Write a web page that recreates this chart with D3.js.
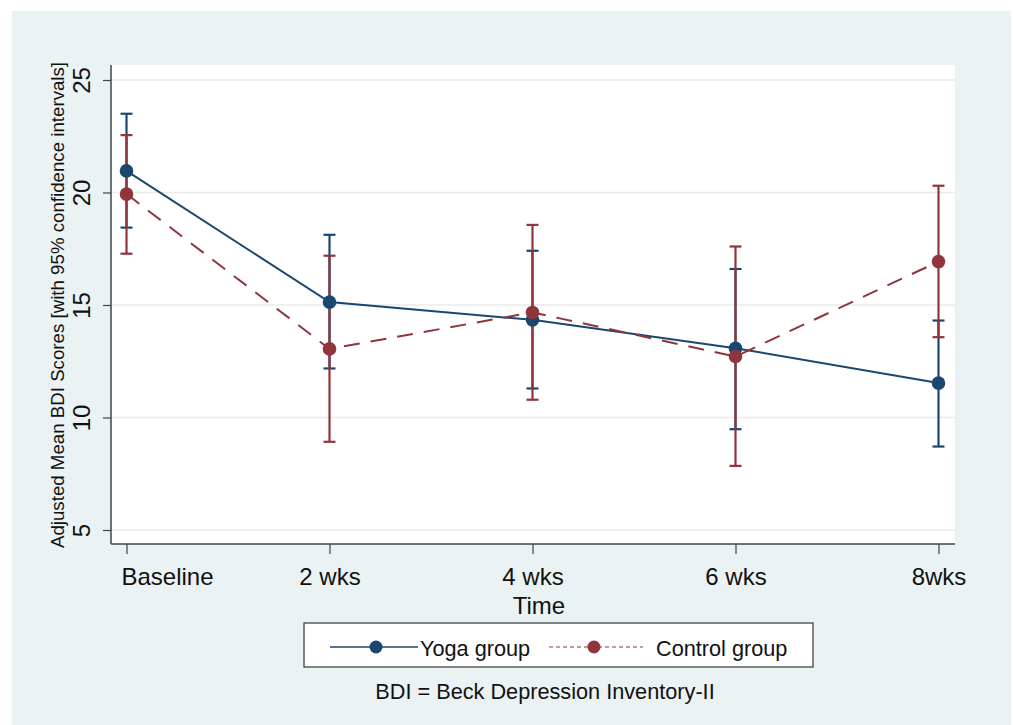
<!DOCTYPE html>
<head>
    <script src="https://d3js.org/d3.v7.min.js"></script>
    <title>Adjusted Mean BDI Scores</title>
    <style>
        body { margin: 0; background: white; }
        text { font-family: "Liberation Sans", Arial, sans-serif; fill: #111; }
    </style>
</head>
<body>
<svg width="1013" height="725" class="chart"></svg>
<script>
    // values
    const times = ["Baseline", "2 wks", "4 wks", "6 wks", "8wks"];
    const yogaMean = [20.96, 15.13, 14.34, 13.08, 11.53];
    const yogaLow = [18.44, 12.18, 11.29, 9.48, 8.71];
    const yogaHigh = [23.5, 18.12, 17.41, 16.6, 14.31];
    const ctrlMean = [19.93, 13.05, 14.67, 12.71, 16.93];
    const ctrlLow = [17.28, 8.92, 10.79, 7.85, 13.57];
    const ctrlHigh = [22.55, 17.19, 18.56, 17.6, 20.3];
    const yTicks = [5, 10, 15, 20, 25];

    const navy = "#1a476f", maroon = "#90353b";

    const svg = d3.select(".chart");

    // stata style grey background
    svg.append("rect").attr("x", 12).attr("y", 11).attr("width", 999).attr("height", 714)
        .attr("fill", "#eaf2f3");

    const plot = {left: 111, right: 955, top: 65, bottom: 544};
    svg.append("rect").attr("x", plot.left).attr("y", plot.top)
        .attr("width", plot.right - plot.left).attr("height", plot.bottom - plot.top)
        .attr("fill", "white");

    const x = d3.scalePoint().domain(times).range([126.5, 938.5]);
    const y = d3.scaleLinear().domain([5, 25]).range([530, 80]);

    // grid
    svg.append("g").selectAll("line").data(yTicks).enter().append("line")
        .attr("x1", plot.left).attr("x2", plot.right)
        .attr("y1", d => y(d)).attr("y2", d => y(d))
        .attr("stroke", "#eaeaea").attr("stroke-width", 1.5);

    // y axis
    const yAxis = svg.append("g")
        .attr("transform", "translate(" + plot.left + ",0)")
        .call(d3.axisLeft(y).tickValues(yTicks).tickSize(8).tickSizeOuter(0));
    yAxis.select(".domain").remove();
    yAxis.append("line").attr("x1", 0).attr("x2", 0).attr("y1", plot.top).attr("y2", plot.bottom)
        .attr("stroke", "#444").attr("stroke-width", 1.5);
    yAxis.selectAll(".tick line").attr("stroke", "#444").attr("stroke-width", 1.2);
    yAxis.selectAll(".tick text")
        .attr("x", 0).attr("dy", 0)
        .attr("transform", "translate(-21,0) rotate(-90)")
        .attr("text-anchor", "middle")
        .style("font-size", "24px").style("font-family", "Liberation Sans, Arial, sans-serif")
        .attr("fill", "#111");

    // x axis
    const xAxis = svg.append("g")
        .attr("transform", "translate(0," + plot.bottom + ")")
        .call(d3.axisBottom(x).tickSize(10).tickSizeOuter(0));
    xAxis.select(".domain").remove();
    xAxis.append("line").attr("x1", plot.left).attr("x2", plot.right).attr("y1", 0).attr("y2", 0)
        .attr("stroke", "#444").attr("stroke-width", 1.5);
    xAxis.selectAll(".tick line").attr("stroke", "#444").attr("stroke-width", 1.2);
    xAxis.selectAll(".tick text")
        .attr("y", 41).attr("dy", 0)
        .style("font-size", "24px").style("font-family", "Liberation Sans, Arial, sans-serif")
        .attr("fill", "#111");
    // the first label sits to the right of its tick in the original
    xAxis.selectAll(".tick text").filter(d => d === "Baseline")
        .attr("text-anchor", "start").attr("x", -5.5);

    // axis titles
    svg.append("text")
        .attr("transform", "translate(64,305) rotate(-90)")
        .attr("text-anchor", "middle")
        .style("font-size", "18.7px")
        .text("Adjusted Mean BDI Scores [with 95% confidence intervals]");
    svg.append("text")
        .attr("x", 539).attr("y", 614)
        .attr("text-anchor", "middle")
        .style("font-size", "24px")
        .text("Time");

    function drawCI(low, high, color) {
        const g = svg.append("g").attr("stroke", color).attr("stroke-width", 2.2);
        g.selectAll(".v").data(times).enter().append("line")
            .attr("x1", d => x(d)).attr("x2", d => x(d))
            .attr("y1", (d, i) => y(low[i])).attr("y2", (d, i) => y(high[i]));
        g.selectAll(".lo").data(times).enter().append("line")
            .attr("x1", d => x(d) - 6).attr("x2", d => x(d) + 6)
            .attr("y1", (d, i) => y(low[i])).attr("y2", (d, i) => y(low[i]));
        g.selectAll(".hi").data(times).enter().append("line")
            .attr("x1", d => x(d) - 6).attr("x2", d => x(d) + 6)
            .attr("y1", (d, i) => y(high[i])).attr("y2", (d, i) => y(high[i]));
    }

    function drawSeries(means, color, dash) {
        const line = d3.line().x((d, i) => x(times[i])).y(d => y(d));
        svg.append("path").datum(means)
            .attr("d", line)
            .attr("fill", "none")
            .attr("stroke", color)
            .attr("stroke-width", 2)
            .attr("stroke-dasharray", dash);
        svg.append("g").selectAll("circle").data(means).enter().append("circle")
            .attr("cx", (d, i) => x(times[i]))
            .attr("cy", d => y(d))
            .attr("r", 6.8)
            .attr("fill", color);
    }

    drawCI(yogaLow, yogaHigh, navy);
    drawCI(ctrlLow, ctrlHigh, maroon);
    drawSeries(yogaMean, navy, null);
    drawSeries(ctrlMean, maroon, "16,11");

    // legend
    const legend = svg.append("g");
    legend.append("rect").attr("x", 304).attr("y", 623).attr("width", 509).attr("height", 44)
        .attr("fill", "white").attr("stroke", "#444").attr("stroke-width", 1.3);
    legend.append("line").attr("x1", 330).attr("x2", 418).attr("y1", 647).attr("y2", 647)
        .attr("stroke", navy).attr("stroke-width", 1.6);
    legend.append("circle").attr("cx", 376).attr("cy", 647).attr("r", 6.5).attr("fill", navy);
    legend.append("text").attr("x", 420).attr("y", 656).style("font-size", "21.7px").text("Yoga group");
    legend.append("line").attr("x1", 549).attr("x2", 643).attr("y1", 647).attr("y2", 647)
        .attr("stroke", maroon).attr("stroke-width", 1.2).attr("stroke-dasharray", "4,3");
    legend.append("circle").attr("cx", 594).attr("cy", 647).attr("r", 6.5).attr("fill", maroon);
    legend.append("text").attr("x", 656).attr("y", 656).style("font-size", "21.7px").text("Control group");

    svg.append("text")
        .attr("x", 545).attr("y", 699)
        .attr("text-anchor", "middle")
        .style("font-size", "21.7px")
        .text("BDI = Beck Depression Inventory-II");
</script>
</body>
